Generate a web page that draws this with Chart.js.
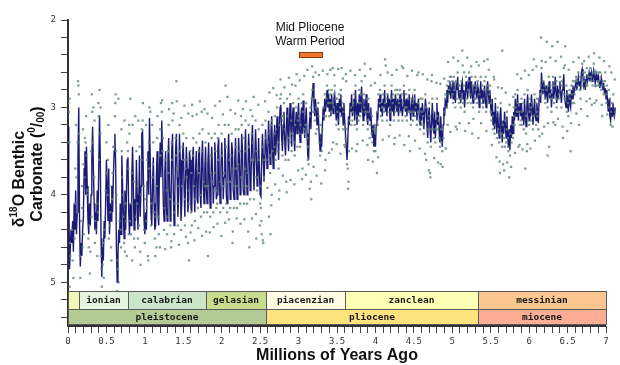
<!DOCTYPE html>
<html><head><meta charset="utf-8">
<script src="https://cdn.jsdelivr.net/npm/chart.js@4.4.1/dist/chart.umd.min.js"></script>
<style>html,body{margin:0;padding:0;background:#fff;}#wrap{width:620px;height:365px;position:relative;}</style>
</head><body><div id="wrap"><canvas id="c" width="620" height="365"></canvas></div>
<script>
// ---- Benthic d18O record (per mil), one value every 0.01 Myr starting at 0 Ma ----
const lineStartAge = 0;
const lineStepMyr = 0.01;
const d18oLine = [
3.22,3.90,4.85,4.60,4.40,4.55,4.30,4.65,4.10,4.40,
3.95,4.45,4.20,3.55,3.00,4.30,4.82,4.55,4.70,4.40,
4.25,3.70,3.50,4.00,3.45,3.90,4.30,4.45,4.10,4.35,
4.00,3.60,3.22,3.70,4.10,4.40,4.20,4.45,3.95,4.30,
3.70,3.09,3.60,4.50,4.94,4.60,4.75,4.30,4.50,4.10,
3.60,3.90,4.30,3.70,4.45,4.10,4.30,3.90,4.20,3.80,
3.50,3.30,3.65,4.60,5.00,4.70,4.40,4.55,4.10,4.45,
3.55,3.90,4.20,4.50,3.95,4.40,4.00,3.60,3.57,4.20,
4.45,4.10,4.35,3.80,3.45,3.90,4.40,4.05,4.30,3.60,
4.00,4.40,4.10,3.55,4.25,3.90,3.30,3.28,3.75,4.30,
4.45,4.20,4.40,3.85,3.50,4.00,3.12,3.60,4.20,4.35,
3.90,3.57,4.10,4.40,4.35,3.80,3.50,4.20,4.35,3.70,
3.40,3.80,3.15,3.60,4.10,4.30,3.75,3.50,4.15,4.30,
3.60,3.35,3.90,4.30,4.10,3.50,3.30,3.95,4.35,4.00,
3.50,3.30,3.80,4.25,4.00,3.30,3.60,4.30,4.10,3.55,
3.40,3.90,4.25,3.80,3.45,3.70,4.20,4.05,3.50,3.60,
4.15,4.20,3.60,3.45,3.95,4.20,3.70,3.50,4.05,4.10,
3.55,3.45,4.00,4.15,3.60,3.38,3.90,4.10,3.70,3.45,
3.95,4.10,3.65,3.40,3.85,4.15,3.80,3.45,3.70,4.10,
3.90,3.40,3.60,4.05,4.00,3.45,3.35,3.90,4.10,3.70,
3.40,3.65,4.05,3.80,3.35,3.55,4.00,4.10,3.60,3.30,
3.70,4.05,3.85,3.40,3.50,3.95,4.05,3.60,3.35,3.80,
4.05,3.75,3.35,3.60,4.00,3.85,3.30,3.50,3.95,4.00,
3.55,3.25,3.70,4.00,3.80,3.30,3.50,3.95,3.90,3.40,
3.20,3.65,3.95,3.60,3.25,3.50,3.90,3.85,3.35,3.70,
4.00,4.02,3.60,3.30,3.55,3.85,3.60,3.25,3.45,3.70,
3.50,3.15,3.40,3.65,3.30,3.10,3.45,3.70,3.35,3.20,
3.55,3.40,3.10,3.30,3.60,3.20,3.00,2.97,3.35,3.50,
3.20,3.05,3.40,3.55,3.25,3.00,3.30,3.50,3.15,2.95,
3.25,3.45,3.10,3.00,3.35,3.50,3.20,3.05,3.30,3.10,
2.95,3.25,3.40,3.10,3.00,3.30,2.92,3.20,3.35,3.15,
3.00,3.30,3.55,3.60,3.20,3.05,3.25,2.95,2.85,2.72,
2.95,3.10,2.90,3.05,3.20,3.00,3.15,3.35,3.50,3.30,
3.45,3.20,3.00,3.15,2.90,3.05,2.95,2.80,3.00,2.85,
3.05,2.90,3.10,2.85,3.00,3.07,2.90,2.85,3.00,3.15,
2.95,3.10,3.20,2.90,3.05,2.85,3.10,3.00,3.20,2.95,
3.15,3.30,3.45,3.60,3.40,3.10,3.20,2.95,3.05,2.85,
3.10,3.00,2.90,3.15,2.80,3.00,3.20,2.95,3.10,2.85,
3.05,2.90,2.76,3.00,3.15,2.90,3.10,3.00,2.85,3.10,
3.20,2.95,3.10,3.15,3.00,3.25,3.35,3.20,3.45,3.30,
3.45,3.20,3.05,3.15,2.90,3.00,2.85,3.05,2.95,3.10,
2.90,3.00,2.80,3.05,2.95,3.10,2.85,3.00,2.90,3.15,
2.95,2.80,3.05,2.90,3.10,3.00,2.85,2.95,3.05,2.90,
3.10,2.95,2.85,3.05,2.90,3.10,3.00,2.80,2.95,3.05,
2.90,3.10,2.95,3.00,2.85,3.05,3.15,2.95,2.90,3.10,
3.00,2.85,3.05,2.95,3.15,3.00,2.90,3.10,3.20,3.00,
3.15,2.95,3.05,3.25,3.10,2.90,3.00,3.20,3.35,3.10,
3.00,3.25,3.40,3.15,2.95,3.20,3.30,3.05,3.35,3.15,
2.95,3.20,3.05,3.30,3.40,3.10,3.35,3.45,3.20,3.00,
3.10,2.90,3.00,2.80,2.95,2.75,2.85,2.70,2.90,2.80,
2.75,2.90,2.70,2.85,2.95,2.75,2.80,2.65,2.85,2.90,
2.80,2.95,2.75,2.70,2.90,2.80,3.00,2.85,2.70,2.80,
2.90,2.75,2.65,2.80,2.90,2.70,2.85,2.95,2.75,2.80,
2.70,2.85,2.90,2.75,2.80,3.00,2.85,2.70,2.90,2.80,
2.95,2.85,2.75,2.90,3.00,2.80,2.70,2.85,2.95,2.80,
3.00,3.10,2.90,3.20,3.05,3.25,2.95,3.15,3.30,3.05,
3.20,3.35,3.10,3.00,3.25,3.40,3.15,3.30,3.05,3.20,
3.35,3.10,3.30,3.45,3.25,3.49,3.20,3.35,3.10,3.30,
3.05,3.15,2.90,3.10,3.00,2.85,3.15,3.00,2.95,3.10,
2.95,3.15,3.05,3.20,2.90,3.10,3.22,3.00,2.85,3.05,
3.15,2.95,3.10,2.85,3.00,3.20,3.05,2.90,3.10,3.15,
2.95,3.05,3.18,2.90,2.80,2.95,2.60,2.75,2.85,2.70,
2.80,2.90,2.75,2.85,2.95,2.80,2.70,2.90,2.80,3.00,
2.85,2.70,2.90,2.80,2.65,2.85,2.95,2.75,2.90,2.80,
2.70,2.85,2.95,2.80,2.75,2.62,2.85,2.95,3.00,2.80,
2.90,3.05,2.85,2.95,3.00,2.80,2.90,2.75,2.85,2.80,
2.75,2.70,2.80,2.72,2.65,2.75,2.70,2.80,2.60,2.56,
2.65,2.75,2.70,2.80,2.68,2.62,2.70,2.66,2.60,2.70,
2.64,2.60,2.70,2.65,2.58,2.66,2.72,2.62,2.68,2.70,
2.64,2.70,2.78,2.72,2.66,2.75,2.80,2.72,2.85,2.78,
2.90,2.80,2.95,3.05,2.90,3.10,3.15,3.00,3.10,2.95,
3.05,3.10,3.00
];

// ---- individual samples [age Myr, d18O] ----
const samplesPleistocene = [
[0.005,2.95],[0.01,3.05],[0.015,3.4],[0.03,4.7],[0.05,4.4],[0.07,4.95],[0.09,4.1],[0.02,5.05],
[0.11,3.8],[0.13,2.7],[0.135,2.75],[0.145,3.3],[0.16,4.95],[0.17,4.3],[0.19,4.6],[0.18,3.9],
[0.2,3.65],[0.22,3.35],[0.23,3.4],[0.25,4.0],[0.27,4.6],[0.28,4.35],[0.29,4.65],[0.24,3.55],
[0.3,3.5],[0.31,2.85],[0.33,3.0],[0.34,3.8],[0.36,4.4],[0.38,4.7],[0.39,4.2],[0.35,4.55],
[0.4,3.1],[0.41,2.8],[0.42,3.3],[0.44,5.05],[0.45,4.8],[0.47,4.4],[0.49,3.95],[0.43,4.7],
[0.5,3.4],[0.52,3.6],[0.53,4.5],[0.55,4.2],[0.56,4.6],[0.58,3.75],[0.59,3.45],[0.54,3.9],
[0.6,3.45],[0.61,3.1],[0.62,2.85],[0.64,5.1],[0.65,4.85],[0.67,4.3],[0.69,4.6],[0.63,4.0],
[0.7,3.5],[0.72,4.25],[0.73,4.55],[0.75,4.1],[0.77,3.4],[0.78,3.5],[0.79,4.45],[0.74,4.65],
[0.8,3.3],[0.82,4.45],[0.83,3.75],[0.84,3.2],[0.86,4.5],[0.87,4.6],[0.89,3.5],[0.81,2.9],
[0.9,4.1],[0.91,4.5],[0.93,3.45],[0.95,4.0],[0.96,3.25],[0.97,3.15],[0.99,4.4],[0.94,4.65],
[1.0,4.55],[1.02,4.3],[1.03,3.6],[1.05,3.4],[1.06,3.0],[1.07,3.05],[1.08,4.35],[1.04,4.7],
[1.1,3.8],[1.11,3.4],[1.13,4.5],[1.14,4.25],[1.16,3.35],[1.18,4.45],[1.19,3.55],[1.15,4.6],
[1.2,3.25],[1.22,3.05],[1.23,3.5],[1.25,4.4],[1.26,3.6],[1.28,4.25],[1.29,4.45],[1.21,2.95],
[1.3,3.5],[1.31,3.2],[1.33,4.35],[1.35,3.4],[1.36,3.15],[1.38,4.45],[1.39,4.1],[1.34,4.6],
[1.4,3.35],[1.41,2.7],[1.42,3.7],[1.43,4.35],[1.45,3.2],[1.47,4.4],[1.49,3.45],[1.44,3.9],
[1.5,3.3],[1.52,4.35],[1.53,3.7],[1.54,3.35],[1.56,4.55],[1.57,4.1],[1.59,3.5],[1.55,3.6],
[1.6,4.2],[1.61,4.35],[1.63,3.35],[1.64,3.9],[1.65,4.3],[1.67,3.4],[1.69,4.15],[1.62,3.1],
[1.7,3.5],[1.71,3.3],[1.73,4.25],[1.75,3.25],[1.76,3.85],[1.77,4.2],[1.79,3.4],[1.74,3.05],
[1.8,3.9],[1.81,4.2],[1.83,3.3],[1.85,4.25],[1.86,3.75],[1.87,3.35],[1.89,4.2],[1.82,4.7],
[1.9,3.95],[1.91,3.3],[1.93,4.15],[1.94,4.1],[1.95,3.35],[1.96,3.2],[1.98,4.2],[1.92,3.5],
[2.0,3.3],[2.02,4.15],[2.03,3.75],[2.04,3.2],[2.06,4.1],[2.07,4.2],[2.09,3.2],[2.05,2.75],
[2.1,3.6],[2.11,4.15],[2.13,3.3],[2.15,3.9],[2.16,4.15],[2.18,3.25],[2.19,3.7],[2.14,4.55],
[2.2,4.15],[2.21,3.65],[2.22,3.25],[2.24,4.1],[2.26,3.2],[2.28,3.9],[2.29,4.1],[2.25,3.1],
[2.3,3.5],[2.31,3.15],[2.33,4.1],[2.34,3.75],[2.35,3.2],[2.37,4.05],[2.39,3.3],[2.36,4.6],
[2.4,3.1],[2.41,3.6],[2.42,4.05],[2.44,3.15],[2.46,3.95],[2.47,3.8],[2.48,3.25],[2.45,4.5],
[2.5,4.1],[2.51,4.15],[2.52,4.45],[2.53,3.2],[2.55,3.8],[2.57,3.15],[2.58,3.6],[2.54,4.55],
[0.025,4.55],[0.06,4.75],[0.085,4.5],[0.095,3.7],[0.115,4.2],[0.125,3.4],[0.155,4.7],[0.185,4.15],
[0.205,4.45],[0.215,3.8],[0.245,3.95],[0.265,4.5],[0.305,4.25],[0.325,3.4],[0.355,4.3],[0.375,4.1],
[0.405,3.6],[0.435,4.85],[0.455,4.55],[0.485,4.25],[0.505,3.75],[0.515,4.0],[0.545,4.35],[0.575,4.05],
[0.605,3.7],[0.625,3.5],[0.645,4.75],[0.685,4.4],[0.705,3.8],[0.715,4.0],[0.755,4.3],[0.785,3.7],
[0.805,4.3],[0.825,4.1],[0.855,3.85],[0.885,4.25],[0.905,3.9],[0.925,4.35],[0.955,3.6],[0.985,3.9],
[1.005,4.05],[1.025,4.15],[1.055,3.7],[1.085,4.1],[1.105,3.65],[1.125,4.2],[1.155,3.9],[1.175,4.25],
[1.205,3.55],[1.235,3.35],[1.255,4.15],[1.285,3.95],[1.305,3.75],[1.325,4.05],[1.355,3.6],[1.385,4.2],
[1.405,3.55],[1.425,4.1],[1.455,3.5],[1.485,3.9],[1.505,3.6],[1.525,4.05],[1.545,3.8],[1.575,3.95],
[1.605,3.75],[1.625,3.55],[1.655,4.05],[1.685,3.7],[1.705,3.75],[1.725,4.0],[1.755,3.5],[1.785,3.9],
[1.805,3.6],[1.825,3.9],[1.855,3.55],[1.885,3.85],[1.905,3.75],[1.925,3.95],[1.955,3.6],[1.985,3.85],
[2.005,3.55],[2.025,3.9],[2.055,3.45],[2.085,3.85],[2.105,3.85],[2.125,3.55],[2.155,3.7],[2.185,3.45],
[2.205,3.9],[2.235,3.5],[2.255,3.8],[2.285,3.35],[2.305,3.7],[2.325,3.9],[2.355,3.45],[2.385,3.6],
[2.405,3.4],[2.435,3.8],[2.455,3.5],[2.485,3.6],[2.505,3.9],[2.525,3.45],[2.555,3.6],[2.575,3.35],
[0.285,4.9],[1.575,4.75],[2.495,4.35],[2.515,4.3],[1.355,2.95],[0.655,2.9],
[0.02,2.9],[0.105,3.2],[0.14,2.85],[0.195,3.25],[0.235,3.1],[0.315,3.05],[0.345,3.15],[0.395,2.95],
[0.425,3.0],[0.465,4.95],[0.525,3.2],[0.565,4.75],[0.615,2.95],[0.66,5.0],[0.695,3.25],[0.735,3.15],
[0.765,4.7],[0.795,3.2],[0.835,4.75],[0.875,3.1],[0.915,3.15],[0.945,4.8],[0.975,2.95],[1.015,3.2],
[1.045,4.75],[1.095,3.2],[1.135,4.7],[1.165,3.1],[1.195,4.6],[1.225,2.92],[1.265,4.62],[1.315,3.02],
[1.345,4.53],[1.375,3.07],[1.415,2.93],[1.445,4.57],[1.475,3.12],[1.515,2.98],[1.535,4.48],[1.565,3.07],
[1.595,4.43],[1.615,2.97],[1.645,4.52],[1.675,3.08],[1.695,4.38],[1.715,2.93],[1.745,4.47],[1.775,3.02],
[1.795,4.42],[1.815,3.07],[1.845,4.43],[1.875,3.12],[1.895,4.37],[1.915,2.98],[1.945,4.33],[1.975,2.93],
[1.995,4.47],[2.015,3.08],[2.045,4.32],[2.075,2.88],[2.095,4.28],[2.115,3.03],[2.145,4.42],[2.175,3.07],
[2.195,4.27],[2.215,2.92],[2.245,4.33],[2.275,3.02],[2.295,4.28],[2.315,2.93],[2.345,4.42],[2.375,3.03],
[2.395,4.27],[2.415,2.88],[2.445,4.22],[2.475,2.97],[2.535,4.52],[2.565,2.93]
];
const samplesPliocene = [
[2.6,3.4],[2.61,3.05],[2.63,3.75],[2.64,3.2],[2.66,3.5],[2.68,3.3],[2.69,3.1],[2.65,4.0],
[2.7,3.6],[2.72,3.0],[2.73,3.4],[2.74,3.7],[2.76,2.9],[2.77,2.85],[2.79,3.55],[2.75,3.95],
[2.8,3.15],[2.81,2.95],[2.83,3.6],[2.85,2.9],[2.86,3.35],[2.87,3.6],[2.89,2.85],[2.84,3.85],
[2.9,3.3],[2.91,3.5],[2.93,2.95],[2.94,3.4],[2.95,3.55],[2.97,3.0],[2.99,3.15],[2.96,2.75],
[3.0,2.9],[3.01,3.3],[3.02,3.45],[3.04,2.95],[3.06,2.85],[3.07,3.25],[3.09,3.2],[3.05,3.7],
[3.1,2.95],[3.11,3.35],[3.12,3.6],[3.13,3.65],[3.15,3.1],[3.17,2.9],[3.18,2.8],[3.19,2.65],[3.16,3.85],
[3.2,2.9],[3.21,3.15],[3.23,3.0],[3.24,3.25],[3.26,3.1],[3.27,3.4],[3.28,3.55],[3.22,2.6],
[3.3,3.5],[3.31,3.25],[3.33,3.1],[3.34,2.85],[3.36,2.9],[3.37,2.75],[3.39,2.8],[3.35,3.6],
[3.4,3.1],[3.41,2.85],[3.43,2.8],[3.44,2.95],[3.46,2.85],[3.47,2.75],[3.49,3.2],[3.45,3.4],
[3.5,2.9],[3.51,3.15],[3.52,3.25],[3.54,3.0],[3.55,2.8],[3.57,2.95],[3.58,3.25],[3.56,2.55],
[3.6,3.2],[3.61,3.35],[3.63,3.65],[3.64,3.7],[3.65,3.85],[3.66,3.15],[3.68,3.0],[3.62,2.7],
[3.7,3.15],[3.71,2.95],[3.73,3.2],[3.74,2.75],[3.76,3.25],[3.78,3.15],[3.79,2.8],[3.75,3.5],
[3.8,3.1],[3.81,2.85],[3.82,2.7],[3.84,3.2],[3.85,2.85],[3.87,3.05],[3.89,3.15],[3.86,2.5],
[3.9,3.25],[3.91,2.9],[3.93,3.2],[3.95,3.3],[3.96,3.4],[3.97,3.25],[3.98,3.5],[3.94,2.75],
[4.0,3.5],[4.01,3.25],[4.03,3.2],[4.04,2.85],[4.06,2.8],[4.07,3.1],[4.09,3.15],[4.02,3.75],
[4.1,2.85],[4.11,3.05],[4.12,2.75],[4.14,2.9],[4.15,3.15],[4.17,3.05],[4.19,3.2],[4.16,2.6],
[4.2,2.9],[4.21,2.75],[4.23,2.85],[4.24,3.15],[4.26,2.8],[4.27,3.0],[4.29,2.85],[4.25,3.35],
[4.3,3.15],[4.31,2.9],[4.32,2.8],[4.34,2.85],[4.35,3.15],[4.37,2.75],[4.39,3.1],[4.36,2.55],
[4.4,2.85],[4.41,3.15],[4.43,3.05],[4.44,2.8],[4.46,3.2],[4.47,2.9],[4.49,3.15],[4.45,3.5],
[4.5,3.05],[4.51,2.8],[4.52,3.1],[4.54,3.2],[4.55,2.95],[4.57,3.15],[4.58,3.25],[4.56,2.6],
[4.6,3.2],[4.61,2.9],[4.62,3.1],[4.63,3.3],[4.65,2.85],[4.67,3.25],[4.68,3.4],[4.66,3.6],
[4.7,2.95],[4.71,3.75],[4.72,3.45],[4.74,2.9],[4.75,3.25],[4.76,3.35],[4.78,3.4],[4.73,2.7],
[4.8,2.9],[4.81,3.25],[4.83,3.35],[4.84,3.45],[4.86,3.4],[4.87,3.5],[4.88,3.25],[4.85,3.65],
[4.9,3.05],[4.91,2.85],[4.93,2.75],[4.95,2.7],[4.96,2.8],[4.97,2.65],[4.99,2.75],[4.94,3.2],
[5.0,2.7],[5.01,2.95],[5.02,2.65],[5.04,3.0],[5.05,2.7],[5.07,2.6],[5.09,2.95],[5.06,3.25],
[5.1,2.75],[5.11,3.0],[5.12,2.7],[5.14,2.95],[5.15,2.75],[5.16,3.05],[5.18,2.65],[5.13,2.35],
[5.2,2.95],[5.21,2.7],[5.22,2.6],[5.24,2.95],[5.25,2.65],[5.27,3.0],[5.29,2.75],[5.26,3.3],
[5.3,2.65],[5.31,2.9],[5.32,2.95],
[2.605,3.3],[2.625,3.55],[2.655,3.15],[2.685,3.45],[2.705,3.25],[2.725,3.5],[2.755,3.2],[2.785,3.1],
[2.805,3.4],[2.825,3.25],[2.855,3.1],[2.885,3.4],[2.905,3.15],[2.925,3.3],[2.955,3.2],[2.985,3.45],
[3.005,3.1],[3.025,3.2],[3.055,3.05],[3.085,3.3],[3.105,3.2],[3.125,3.45],[3.155,3.0],[3.185,3.05],
[3.205,3.05],[3.225,3.3],[3.255,2.95],[3.285,3.2],[3.305,3.3],[3.325,3.0],[3.355,3.1],[3.385,2.95],
[3.405,2.95],[3.425,3.05],[3.455,3.0],[3.485,2.9],[3.505,3.05],[3.525,2.85],[3.555,3.1],[3.585,3.05],
[3.605,3.45],[3.625,3.25],[3.655,3.5],[3.685,3.2],[3.705,3.05],[3.725,2.85],[3.755,3.1],[3.785,2.95],
[3.805,2.95],[3.825,3.05],[3.855,3.0],[3.885,2.9],[3.905,3.05],[3.925,3.35],[3.955,3.1],[3.985,3.2],
[4.005,3.3],[4.025,3.05],[4.055,2.95],[4.085,3.0],[4.105,3.0],[4.125,2.95],[4.155,2.85],[4.185,3.0],
[4.205,3.05],[4.225,2.95],[4.255,3.05],[4.285,2.8],[4.305,2.95],[4.325,3.05],[4.355,2.95],[4.385,3.0],
[4.405,3.0],[4.425,2.9],[4.455,3.05],[4.485,2.95],[4.505,2.9],[4.525,3.0],[4.555,3.05],[4.585,2.9],
[4.605,3.05],[4.625,3.2],[4.655,3.0],[4.685,3.15],[4.705,3.1],[4.725,3.25],[4.755,3.05],[4.785,3.25],
[4.805,3.1],[4.825,3.15],[4.855,3.25],[4.885,3.35],[4.905,2.9],[4.925,3.0],[4.955,2.85],[4.985,2.65],
[5.005,2.85],[5.025,2.8],[5.055,2.9],[5.085,2.75],[5.105,2.9],[5.125,2.85],[5.155,2.6],[5.185,2.9],
[5.205,2.8],[5.235,2.85],[5.265,2.75],[5.285,2.9],[5.305,2.8],[5.325,2.75],
[3.165,4.05],[2.615,4.25],[2.635,4.45],[3.905,3.6],[4.715,3.8],[3.445,2.55],[4.125,2.45],
[2.595,3.92],[2.62,2.83],[2.645,4.12],[2.67,2.78],[2.695,3.88],[2.715,2.86],[2.745,4.05],[2.765,2.68],
[2.795,3.78],[2.815,2.77],[2.845,3.97],[2.875,2.66],[2.895,3.83],[2.915,2.74],[2.945,3.88],[2.975,2.62],
[2.995,3.72],[3.015,2.69],[3.045,3.82],[3.075,2.64],[3.095,3.77],[3.115,2.57],[3.145,3.93],[3.175,2.53],
[3.195,3.68],[3.235,3.78],[3.265,2.63],[3.295,3.87],[3.315,2.58],[3.345,3.72],[3.375,2.62],[3.395,3.52],
[3.415,2.57],[3.435,3.48],[3.465,2.63],[3.495,3.42],[3.515,2.56],[3.545,3.53],[3.575,2.67],[3.595,3.43],
[3.615,2.62],[3.645,3.93],[3.675,2.58],[3.695,3.47],[3.735,2.63],[3.765,3.42],[3.795,2.57],[3.835,3.38],
[3.865,2.64],[3.895,3.43],[3.935,2.56],[3.965,3.62],[3.995,2.72],[4.035,3.57],[4.065,2.63],[4.095,3.37],
[4.135,2.52],[4.175,3.33],[4.215,2.63],[4.245,3.42],[4.275,2.57],[4.315,3.32],[4.345,2.53],[4.375,3.43],
[4.415,2.64],[4.435,3.33],[4.475,2.58],[4.515,3.38],[4.545,2.63],[4.575,3.47],[4.615,2.62],[4.645,3.53],
[4.675,2.68],[4.695,3.72],[4.735,2.63],[4.765,3.58],[4.795,2.72],[4.815,3.63],[4.845,2.73],[4.875,3.68],
[4.895,2.67],[4.915,3.47],[4.945,2.48],[4.975,3.28],[5.015,2.43],[5.045,3.22],[5.075,2.47],[5.095,3.18],
[5.135,2.52],[5.165,3.27],[5.195,2.43],[5.215,3.18],[5.245,2.53],[5.275,3.13],[5.315,2.48]
];
const samplesMiocene = [
[5.33,2.7],[5.35,3.05],[5.37,2.65],[5.39,2.75],[5.34,3.35],
[5.4,3.0],[5.41,2.8],[5.42,2.7],[5.44,3.05],[5.45,2.75],[5.47,2.8],[5.49,2.75],[5.46,2.45],
[5.5,3.05],[5.51,3.15],[5.53,3.25],[5.55,3.3],[5.56,2.9],[5.58,3.35],[5.59,3.0],[5.54,2.65],
[5.6,3.25],[5.61,3.4],[5.63,2.95],[5.64,3.3],[5.65,3.45],[5.67,3.35],[5.69,3.15],[5.66,3.65],
[5.7,3.4],[5.71,3.05],[5.72,3.35],[5.73,3.5],[5.75,3.55],[5.77,3.4],[5.79,3.35],[5.74,3.8],
[5.8,3.0],[5.81,3.2],[5.82,2.85],[5.84,3.05],[5.85,2.8],[5.87,3.05],[5.89,3.15],[5.86,3.45],
[5.9,2.9],[5.91,3.2],[5.93,3.25],[5.94,2.85],[5.95,3.7],[5.96,3.3],[5.98,2.8],[5.97,3.5],
[6.0,3.2],[6.01,2.9],[6.02,3.15],[6.04,2.95],[6.05,3.25],[6.07,2.85],[6.09,3.2],[6.06,2.45],
[6.1,2.9],[6.11,3.1],[6.12,3.25],[6.14,2.85],[6.15,2.75],[6.16,2.55],[6.18,2.8],[6.17,3.3],
[6.2,2.75],[6.21,2.95],[6.23,2.25],[6.24,3.0],[6.25,2.75],[6.27,2.85],[6.29,3.05],[6.26,3.45],
[6.3,2.8],[6.31,2.65],[6.33,2.75],[6.35,2.9],[6.36,3.0],[6.37,2.25],[6.39,2.85],[6.34,3.2],
[6.4,2.65],[6.42,3.0],[6.43,2.75],[6.45,2.55],[6.46,2.9],[6.47,2.3],[6.49,3.05],[6.44,3.35],
[6.5,2.85],[6.51,3.1],[6.53,2.9],[6.55,2.75],[6.56,2.95],[6.57,2.7],[6.59,2.85],[6.54,3.5],
[6.6,2.7],[6.61,2.65],[6.63,2.75],[6.64,2.6],[6.66,2.8],[6.67,2.9],[6.69,2.5],[6.65,3.2],
[6.7,2.6],[6.71,2.7],[6.72,2.65],[6.74,2.75],[6.75,2.55],[6.77,2.65],[6.79,2.9],[6.76,3.1],
[6.8,2.55],[6.81,2.7],[6.83,2.6],[6.84,2.5],[6.86,2.75],[6.87,2.6],[6.89,2.7],[6.85,2.95],
[6.9,2.6],[6.91,2.75],[6.93,2.65],[6.94,2.8],[6.96,2.7],[6.97,2.85],[6.99,2.6],[6.95,3.1],
[7.0,2.85],[7.01,2.75],[7.03,3.0],[7.05,2.9],[7.06,3.2],[7.08,2.95],[7.1,3.1],[7.07,2.6],[7.12,3.05],
[5.355,2.85],[5.385,2.95],[5.405,2.9],[5.435,2.65],[5.465,2.95],[5.485,2.85],
[5.505,2.95],[5.525,3.1],[5.555,3.2],[5.585,3.05],[5.605,3.1],[5.625,3.3],[5.655,3.2],[5.685,3.45],
[5.705,3.25],[5.725,3.45],[5.755,3.3],[5.785,3.2],[5.805,3.1],[5.825,3.0],[5.855,2.95],[5.885,3.2],
[5.905,3.05],[5.925,2.95],[5.955,3.1],[5.985,3.15],[6.005,3.05],[6.025,3.0],[6.055,3.1],[6.085,2.95],
[6.105,3.05],[6.125,2.9],[6.155,2.85],[6.185,2.7],[6.205,2.9],[6.225,2.8],[6.255,2.65],[6.285,2.9],
[6.305,2.75],[6.325,2.95],[6.355,2.7],[6.385,2.9],[6.405,2.8],[6.425,2.7],[6.455,2.85],[6.485,2.75],
[6.505,2.95],[6.525,2.8],[6.555,2.85],[6.585,2.95],[6.605,2.8],[6.625,2.7],[6.655,2.65],[6.685,2.75],
[6.705,2.7],[6.725,2.6],[6.755,2.75],[6.785,2.65],[6.805,2.65],[6.825,2.75],[6.855,2.6],[6.885,2.75],
[6.905,2.7],[6.925,2.6],[6.955,2.75],[6.985,2.7],[7.005,2.95],[7.035,2.8],[7.065,3.05],[7.095,2.85],
[5.65,2.35],[6.155,2.2],[6.3,2.3],[5.62,3.75],[6.24,3.55],
[5.345,2.52],[5.375,3.18],[5.415,2.47],[5.445,3.27],[5.475,2.57],[5.515,3.43],[5.545,2.68],[5.575,3.57],
[5.595,2.77],[5.615,3.62],[5.645,2.78],[5.675,3.72],[5.695,2.83],[5.715,3.63],[5.745,2.97],[5.765,3.68],
[5.795,2.88],[5.815,3.52],[5.845,2.62],[5.875,3.43],[5.895,2.67],[5.915,3.48],[5.945,2.58],[5.975,3.42],
[5.995,2.63],[6.015,3.47],[6.045,2.57],[6.075,3.38],[6.095,2.53],[6.135,3.33],[6.165,2.47],[6.195,3.22],
[6.215,2.48],[6.245,3.18],[6.275,2.43],[6.315,3.17],[6.345,2.47],[6.375,3.13],[6.415,2.42],[6.435,3.22],
[6.465,2.52],[6.495,3.27],[6.515,2.57],[6.545,3.18],[6.575,2.48],[6.615,3.07],[6.645,2.43],[6.675,3.02],
[6.715,2.47],[6.745,2.93],[6.775,2.42],[6.815,2.97],[6.845,2.38],[6.875,2.92],[6.915,2.43],[6.945,2.97],
[6.975,2.47],[7.015,3.08],[7.045,2.53],[7.085,3.22],[7.115,2.68]
];

// ---- geologic time scale ----
const stageNames = ['', 'ionian', 'calabrian', 'gelasian', 'piacenzian', 'zanclean', 'messinian'];
const stageStart = [0, 0.14, 0.78, 1.8, 2.58, 3.6, 5.34];
const stageEnd   = [0.14, 0.78, 1.8, 2.58, 3.6, 5.34, 7.0];
const stageColors = ['#f1f8b8', '#e5f5df', '#cbe5c9', '#c7dc8c', '#fffbe2', '#ffffb6', '#fcc690'];
const epochNames = ['pleistocene', 'pliocene', 'miocene'];
const epochStart = [0, 2.58, 5.34];
const epochEnd   = [2.58, 5.34, 7.0];
const epochColors = ['#b3cb95', '#ffe37e', '#fcad93'];
const stageRow = [5.1, 5.305];
const epochRow = [5.305, 5.477];

// ---- Mid Pliocene Warm Period marker ----
const mpwpLabel = ['Mid Pliocene', 'Warm Period'];
const mpwpAge = [3.0, 3.32];
const mpwpD18O = [2.363, 2.43];

// ---- ticks ----
const xTickValues = [0,0.1,0.2,0.3,0.4,0.5,0.6,0.7,0.8,0.9,1,1.1,1.2,1.3,1.4,1.5,1.6,1.7,1.8,1.9,2,2.1,2.2,2.3,2.4,2.5,2.6,2.7,2.8,2.9,3,3.1,3.2,3.3,3.4,3.5,3.6,3.7,3.8,3.9,4,4.1,4.2,4.3,4.4,4.5,4.6,4.7,4.8,4.9,5,5.1,5.2,5.3,5.4,5.5,5.6,5.7,5.8,5.9,6,6.1,6.2,6.3,6.4,6.5,6.6,6.7,6.8,6.9,7];
const xLabelValues = [0,0.5,1,1.5,2,2.5,3,3.5,4,4.5,5,5.5,6,6.5,7];
const xTickLabels = ['0','0.5','1','1.5','2','2.5','3','3.5','4','4.5','5','5.5','6','6.5','7'];
const yTickValues = [2,2.2,2.4,2.6,2.8,3,3.2,3.4,3.6,3.8,4,4.2,4.4,4.6,4.8,5,5.2,5.4];
const yLabelValues = [2,3,4,5];
const yTickLabels = ['2','3','4','5'];

const lineData = d18oLine.map((v, i) => ({x: +(lineStartAge + i * lineStepMyr).toFixed(2), y: v}));
const scatterData = samplesPleistocene.concat(samplesPliocene, samplesMiocene).map(p => ({x: p[0], y: p[1]}));

function labelFrom(values, labels, v) {
  for (let i = 0; i < values.length; i++) if (Math.abs(values[i] - v) < 1e-6) return labels[i];
  return '';
}

const SANS = '"Liberation Sans", Arial, sans-serif';
const MONO = '"DejaVu Sans Mono", "Liberation Mono", monospace';

function richRotated(ctx, parts, bx, cy) {
  ctx.save();
  ctx.translate(bx, cy);
  ctx.rotate(-Math.PI / 2);
  ctx.textBaseline = 'alphabetic';
  ctx.textAlign = 'left';
  let w = 0;
  parts.forEach(p => { ctx.font = p.f; w += ctx.measureText(p.t).width; });
  let xx = -w / 2;
  parts.forEach(p => { ctx.font = p.f; ctx.fillText(p.t, xx, p.dy || 0); xx += ctx.measureText(p.t).width; });
  ctx.restore();
}

const overlay = {
  id: 'overlay',
  afterDatasetsDraw(chart) {
    const ctx = chart.ctx, x = chart.scales.x, y = chart.scales.y;
    ctx.save();
    function box(a0, a1, v0, v1, fill, text) {
      const L = Math.round(x.getPixelForValue(a0)), R = Math.round(x.getPixelForValue(a1));
      const T = Math.round(y.getPixelForValue(v0)), B = Math.round(y.getPixelForValue(v1));
      ctx.fillStyle = fill;
      ctx.fillRect(L, T, R - L, B - T);
      ctx.strokeStyle = '#5a5a5a'; ctx.lineWidth = 1;
      ctx.strokeRect(L + 0.5, T + 0.5, R - L, B - T);
      if (text) {
        ctx.fillStyle = '#1a1a1a';
        ctx.font = 'bold 9.5px ' + MONO;
        ctx.textAlign = 'center'; ctx.textBaseline = 'middle';
        ctx.fillText(text, (L + R) / 2, (T + B) / 2 + 1);
      }
    }
    stageNames.forEach((n, i) => box(stageStart[i], stageEnd[i], stageRow[0], stageRow[1], stageColors[i], n));
    epochNames.forEach((n, i) => box(epochStart[i], epochEnd[i], epochRow[0], epochRow[1], epochColors[i], n));

    // MPWP bar and label
    const L = Math.round(x.getPixelForValue(mpwpAge[0])), R = Math.round(x.getPixelForValue(mpwpAge[1]));
    const T = Math.round(y.getPixelForValue(mpwpD18O[0])), B = Math.round(y.getPixelForValue(mpwpD18O[1]));
    ctx.fillStyle = '#f0782a';
    ctx.fillRect(L, T, R - L, B - T);
    ctx.strokeStyle = '#8a3a12'; ctx.lineWidth = 1;
    ctx.strokeRect(L + 0.5, T + 0.5, R - L - 1, B - T - 1);
    ctx.fillStyle = '#111';
    ctx.font = '12px ' + SANS;
    ctx.textAlign = 'center'; ctx.textBaseline = 'alphabetic';
    const cx = (L + R) / 2 - 1;
    ctx.fillText(mpwpLabel[0], cx, T - 21);
    ctx.fillText(mpwpLabel[1], cx, T - 7);

    // x axis line from 0 to 7
    ctx.strokeStyle = '#333'; ctx.lineWidth = 2;
    ctx.beginPath();
    ctx.moveTo(x.getPixelForValue(0) - 1, chart.chartArea.bottom);
    ctx.lineTo(x.getPixelForValue(7), chart.chartArea.bottom);
    ctx.stroke();
    ctx.restore();
  },
  afterDraw(chart) {
    const ctx = chart.ctx;
    ctx.save();
    ctx.fillStyle = '#111';
    const B16 = 'bold 16px ' + SANS, B10 = 'bold 10px ' + SANS;
    richRotated(ctx, [{t: 'δ', f: B16}, {t: '18', f: B10, dy: -7}, {t: 'O Benthic', f: B16}], 24, 179);
    richRotated(ctx, [{t: 'Carbonate (', f: B16}, {t: '0', f: B10, dy: -7}, {t: '/', f: B16}, {t: '00', f: B10, dy: 2}, {t: ')', f: B16}], 42, 164);
    ctx.font = B16;
    ctx.textAlign = 'center'; ctx.textBaseline = 'alphabetic';
    ctx.fillText('Millions of Years Ago', 337, 360);
    ctx.restore();
  }
};

new Chart(document.getElementById('c'), {
  data: {
    datasets: [
      {type: 'scatter', label: 'samples', data: scatterData, parsing: false, pointStyle: 'rect', pointRadius: 1.6, backgroundColor: 'rgba(95,132,122,0.8)', borderWidth: 0, order: 0},
      {type: 'line', label: 'δ18O record', data: lineData, parsing: false, borderColor: 'rgba(8,8,105,0.92)', borderWidth: 1.4, pointRadius: 0, tension: 0, order: 1}
    ]
  },
  options: {
    responsive: false, animation: false, devicePixelRatio: 1,
    layout: {padding: {top: 20, right: 3, left: 0, bottom: 0}},
    plugins: {legend: {display: false}, tooltip: {enabled: false}},
    scales: {
      x: {
        type: 'linear', min: 0, max: 7.13, position: 'bottom',
        afterBuildTicks: s => { s.ticks = xTickValues.map(v => ({value: v})); },
        afterFit: s => { s.height = 39; },
        ticks: {autoSkip: false, maxRotation: 0, minRotation: 0, callback: v => labelFrom(xLabelValues, xTickLabels, v),
                font: {family: MONO, size: 9}, color: '#333', padding: 3},
        grid: {drawOnChartArea: false, drawTicks: true, tickLength: 7, tickColor: '#444', tickWidth: 1},
        border: {display: false}
      },
      y: {
        type: 'linear', reverse: true, min: 2, max: 5.5,
        afterBuildTicks: s => { s.ticks = yTickValues.map(v => ({value: v})); },
        afterFit: s => { s.width = 68; },
        ticks: {autoSkip: false, callback: v => labelFrom(yLabelValues, yTickLabels, v),
                font: {family: MONO, size: 9}, color: '#333', padding: 5},
        grid: {drawOnChartArea: false, drawTicks: true, tickLength: 7, tickColor: '#444', tickWidth: 1},
        border: {display: true, color: '#333', width: 2}
      }
    }
  },
  plugins: [overlay]
});
</script>
</body></html>
